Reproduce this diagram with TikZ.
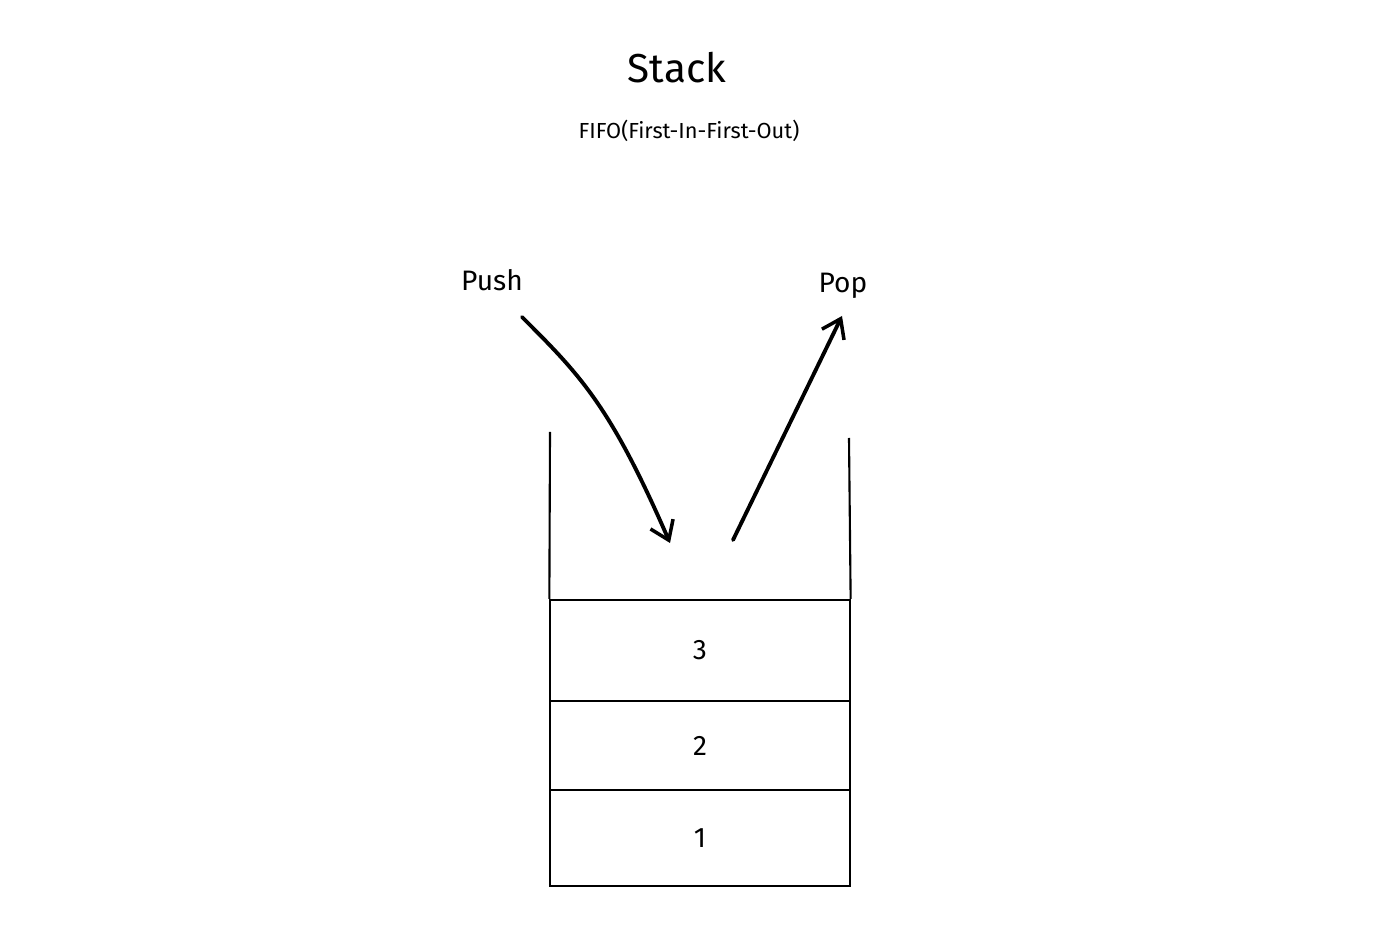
\documentclass[tikz,border=0pt]{standalone}
\usepackage{fontspec}
\setmainfont{Fira Sans}
\usetikzlibrary{arrows.meta,positioning}

\tikzset{
  cell/.style={draw,line width=0.6pt,minimum width=2.99cm,inner sep=0pt,font=\fontsize{8}{9}\selectfont},
  wall/.style={line width=0.6pt},
  flow/.style={line width=1.1pt,line cap=round,-{Straight Barb[length=5pt,width=7pt,line width=1pt]}}
}

\begin{document}
\begin{tikzpicture}[x=0.01cm,y=-0.01cm]
  \useasboundingbox (0,0) rectangle (1378,940);
  % titles
  \node (title) at (677,68) {\fontsize{11.5}{13}\selectfont Stack};
  \node (sub) at (689,131) {\fontsize{6.2}{7}\selectfont FIFO(First-In-First-Out)};
  % stack cells
  \node[cell,minimum height=1.01cm] (c3) at (700,650.5) {3};
  \node[cell,minimum height=0.89cm,below=-0.6pt of c3] (c2) {2};
  \node[cell,minimum height=0.96cm,below=-0.6pt of c2] (c1) {1};
  \coordinate (lt) at (550,432);
  \coordinate (rt) at (849,438);
  \draw[wall] (c3.north west) -- (lt);
  \draw[wall] (c3.north east) -- (rt);
  % push and pop
  \node[font=\fontsize{8}{9}\selectfont] (push) at (492,280) {Push};
  \node[font=\fontsize{8}{9}\selectfont] (pop) at (843,286) {Pop};
  \coordinate (pushstart) at (522,317);
  \coordinate (pushend) at (670,543);
  \coordinate (popstart) at (733,540);
  \coordinate (popend) at (842,316);
  \draw[flow] (pushstart) .. controls (580,375) and (610,405) .. (pushend);
  \draw[flow] (popstart) -- (popend);
\end{tikzpicture}
\end{document}
